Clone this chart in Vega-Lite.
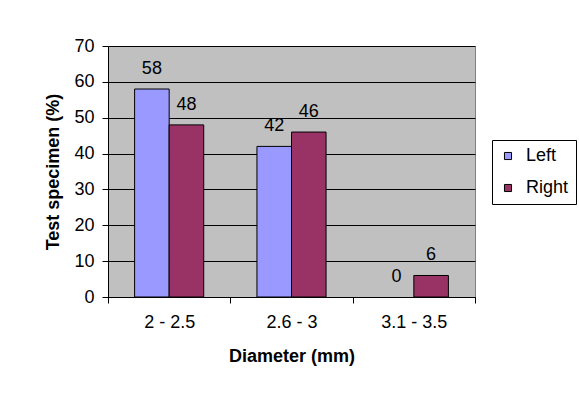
{
  "$schema": "https://vega.github.io/schema/vega-lite/v6.json",
  "width": 367,
  "height": 251,
  "autosize": {"type": "none"},
  "padding": {"left": 108, "top": 46, "right": 104, "bottom": 104},
  "background": "white",
  "data": {
    "values": [
      {"diameter": "2 - 2.5", "side": "Left", "pct": 58},
      {"diameter": "2 - 2.5", "side": "Right", "pct": 48},
      {"diameter": "2.6 - 3", "side": "Left", "pct": 42},
      {"diameter": "2.6 - 3", "side": "Right", "pct": 46},
      {"diameter": "3.1 - 3.5", "side": "Left", "pct": 0},
      {"diameter": "3.1 - 3.5", "side": "Right", "pct": 6}
    ]
  },
  "config": {
    "font": "Liberation Sans",
    "view": {"fill": "#C0C0C0", "stroke": "#808080", "strokeWidth": 1},
    "axis": {
      "labelFont": "Liberation Sans",
      "titleFont": "Liberation Sans",
      "labelColor": "black",
      "titleColor": "black",
      "labelFontSize": 18,
      "titleFontSize": 18,
      "titleFontWeight": "bold",
      "domainColor": "black",
      "tickColor": "black",
      "tickSize": 6
    }
  },
  "encoding": {
    "x": {
      "field": "diameter",
      "type": "nominal",
      "sort": null,
      "scale": {"paddingInner": 0, "paddingOuter": 0},
      "axis": {
        "title": "Diameter (mm)",
        "labelAngle": 0,
        "tickBand": "extent",
        "labelPadding": 10,
        "titlePadding": 16,
        "grid": false
      }
    },
    "xOffset": {
      "field": "side",
      "type": "nominal",
      "scale": {"paddingInner": 0, "paddingOuter": 0.77}
    },
    "y": {
      "field": "pct",
      "type": "quantitative",
      "scale": {"domain": [0, 70], "nice": false},
      "axis": {
        "title": "Test specimen (%)",
        "values": [0, 10, 20, 30, 40, 50, 60, 70],
        "grid": true,
        "gridColor": "black",
        "gridWidth": 1,
        "labelPadding": 8,
        "titlePadding": 11
      }
    }
  },
  "layer": [
    {
      "transform": [{"filter": "datum.pct > 0"}],
      "mark": {"type": "bar", "stroke": "black", "strokeWidth": 1},
      "encoding": {
        "color": {
          "field": "side",
          "type": "nominal",
          "scale": {"domain": ["Left", "Right"], "range": ["#9999FF", "#993366"]},
          "legend": {
            "title": null,
            "orient": "none",
            "legendX": 384,
            "legendY": 94,
            "symbolType": "square",
            "symbolSize": 50,
            "symbolStrokeColor": "black",
            "symbolStrokeWidth": 1,
            "labelFontSize": 18,
            "labelFont": "Liberation Sans",
            "labelColor": "black",
            "strokeColor": "black",
            "fillColor": "white",
            "padding": 7,
            "rowPadding": 14,
            "labelOffset": 9
          }
        }
      }
    },
    {
      "mark": {"type": "text", "dy": -15, "baseline": "alphabetic", "fontSize": 18, "font": "Liberation Sans", "color": "black"},
      "encoding": {
        "text": {"field": "pct", "type": "quantitative"}
      }
    }
  ]
}
